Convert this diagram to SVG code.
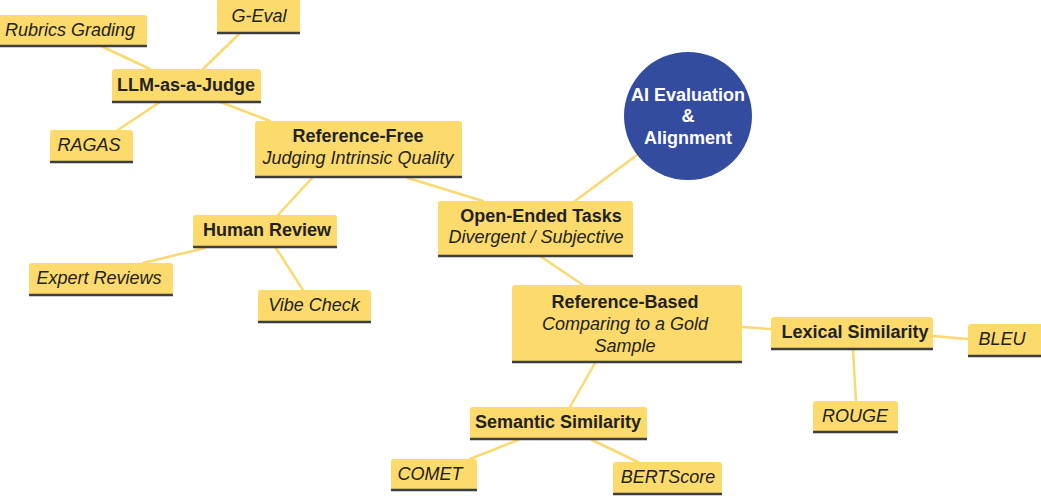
<svg xmlns="http://www.w3.org/2000/svg" width="1041" height="496" viewBox="0 0 1041 496">
<style>
.box{fill:#fdda6c}
.base{stroke:#3e3e3e;stroke-width:2.5;fill:none}
.edge{stroke:#fad96f;stroke-width:2.5;fill:none;stroke-linecap:round}
text{font-family:"Liberation Sans",Arial,sans-serif;font-size:18px;fill:#222;text-anchor:middle}
.b{font-weight:bold}
.i{font-style:italic}
.w{fill:#fff;font-weight:bold}
</style>
<rect width="1041" height="496" fill="#fff"/>
<g id="connectors">
<line class="edge" x1="637" y1="155" x2="575" y2="201"/>
<line class="edge" x1="408" y1="178" x2="483" y2="201"/>
<line class="edge" x1="220" y1="102" x2="270" y2="121"/>
<line class="edge" x1="103" y1="47" x2="150" y2="69"/>
<line class="edge" x1="240" y1="33" x2="203" y2="69"/>
<line class="edge" x1="160" y1="102" x2="118" y2="130"/>
<line class="edge" x1="313" y1="177" x2="278" y2="215"/>
<line class="edge" x1="205" y1="248" x2="143" y2="263"/>
<line class="edge" x1="276" y1="248" x2="303" y2="290"/>
<line class="edge" x1="540" y1="256" x2="583" y2="285"/>
<line class="edge" x1="742" y1="327" x2="771" y2="329"/>
<line class="edge" x1="933" y1="336" x2="968" y2="339"/>
<line class="edge" x1="853" y1="350" x2="856" y2="401"/>
<line class="edge" x1="595" y1="363" x2="570" y2="407"/>
<line class="edge" x1="518" y1="440" x2="470" y2="459"/>
<line class="edge" x1="592" y1="440" x2="638" y2="462"/>
</g>
<g id="root">
<circle cx="688" cy="116" r="64" fill="#334c9f"/>
<text class="w" x="688" y="101">AI Evaluation</text>
<text class="w" x="688" y="122">&amp;</text>
<text class="w" x="688" y="144">Alignment</text>
</g>
<g id="open-ended">
<rect class="box" x="438" y="201" width="195" height="55" rx="3"/>
<line class="base" x1="438" y1="256" x2="633" y2="256"/>
<text class="b" x="541" y="222">Open-Ended Tasks</text>
<text class="i" x="536" y="243">Divergent / Subjective</text>
</g>
<g id="reference-free">
<rect class="box" x="255" y="121" width="207" height="56" rx="3"/>
<line class="base" x1="255" y1="177" x2="462" y2="177"/>
<text class="b" x="358" y="142">Reference-Free</text>
<text class="i" x="358" y="164">Judging Intrinsic Quality</text>
</g>
<g id="llm-judge">
<rect class="box" x="112" y="69" width="149" height="33" rx="3"/>
<line class="base" x1="112" y1="102" x2="261" y2="102"/>
<text class="b" x="186" y="91">LLM-as-a-Judge</text>
</g>
<g id="rubrics">
<rect class="box" x="-4" y="15" width="151" height="31" rx="3"/>
<line class="base" x1="0" y1="46" x2="147" y2="46"/>
<text class="i" x="70" y="36">Rubrics Grading</text>
</g>
<g id="g-eval">
<rect class="box" x="217" y="-4" width="83" height="37" rx="3"/>
<line class="base" x1="217" y1="33" x2="300" y2="33"/>
<text class="i" x="259" y="22">G-Eval</text>
</g>
<g id="ragas">
<rect class="box" x="50" y="130" width="83" height="32" rx="3"/>
<line class="base" x1="50" y1="162" x2="133" y2="162"/>
<text class="i" x="89" y="151">RAGAS</text>
</g>
<g id="human-review">
<rect class="box" x="193" y="215" width="144" height="32" rx="3"/>
<line class="base" x1="193" y1="247" x2="337" y2="247"/>
<text class="b" x="267" y="236">Human Review</text>
</g>
<g id="expert-reviews">
<rect class="box" x="29" y="263" width="144" height="32" rx="3"/>
<line class="base" x1="29" y1="295" x2="173" y2="295"/>
<text class="i" x="99" y="284">Expert Reviews</text>
</g>
<g id="vibe-check">
<rect class="box" x="258" y="290" width="113" height="32" rx="3"/>
<line class="base" x1="258" y1="322" x2="371" y2="322"/>
<text class="i" x="314" y="311">Vibe Check</text>
</g>
<g id="reference-based">
<rect class="box" x="512" y="285" width="230" height="77" rx="3"/>
<line class="base" x1="512" y1="362" x2="742" y2="362"/>
<text class="b" x="625" y="308">Reference-Based</text>
<text class="i" x="625" y="330">Comparing to a Gold</text>
<text class="i" x="625" y="352">Sample</text>
</g>
<g id="lexical">
<rect class="box" x="771" y="317" width="162" height="32" rx="3"/>
<line class="base" x1="771" y1="349" x2="933" y2="349"/>
<text class="b" x="855" y="338">Lexical Similarity</text>
</g>
<g id="bleu">
<rect class="box" x="968" y="324" width="77" height="32" rx="3"/>
<line class="base" x1="968" y1="356" x2="1041" y2="356"/>
<text class="i" x="1002" y="345">BLEU</text>
</g>
<g id="rouge">
<rect class="box" x="813" y="401" width="85" height="31" rx="3"/>
<line class="base" x1="813" y1="432" x2="898" y2="432"/>
<text class="i" x="855" y="422">ROUGE</text>
</g>
<g id="semantic">
<rect class="box" x="470" y="407" width="177" height="32" rx="3"/>
<line class="base" x1="470" y1="439" x2="647" y2="439"/>
<text class="b" x="558" y="428">Semantic Similarity</text>
</g>
<g id="comet">
<rect class="box" x="391" y="459" width="86" height="31" rx="3"/>
<line class="base" x1="391" y1="490" x2="477" y2="490"/>
<text class="i" x="430" y="480">COMET</text>
</g>
<g id="bertscore">
<rect class="box" x="613" y="462" width="109" height="32" rx="3"/>
<line class="base" x1="613" y1="494" x2="722" y2="494"/>
<text class="i" x="668" y="483">BERTScore</text>
</g>
</svg>
